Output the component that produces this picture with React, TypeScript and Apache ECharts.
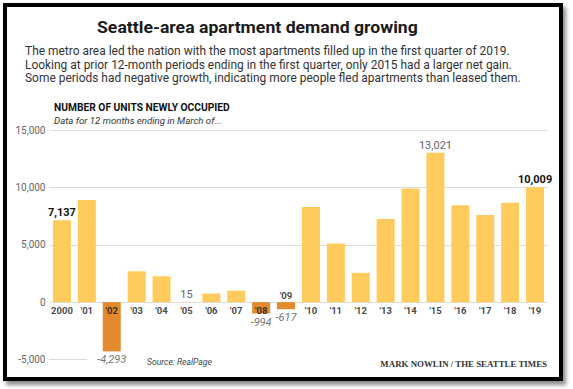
import React, { useEffect, useRef } from "react";
import * as echarts from "echarts";

const categories = ["2000", "'01", "'02", "'03", "'04", "'05", "'06", "'07", "'08", "'09", "'10", "'11", "'12", "'13", "'14", "'15", "'16", "'17", "'18", "'19"];
const values = [7137, 8900, -4293, 2700, 2250, 15, 750, 1000, -994, -617, 8300, 5100, 2550, 7250, 9900, 13021, 8450, 7600, 8650, 10009];
const boldLabelIdx = [0, 19];
const grayLabelIdx = [5, 15];
const negLabelIdx = [2, 8, 9];
const raisedCatIdx = [9];
const yTicks = [-5000, 0, 5000, 10000, 15000];

const title = "Seattle-area apartment demand growing";
const subtitleLines = [
  "The metro area led the nation with the most apartments filled up in the first quarter of 2019.",
  "Looking at prior 12-month periods ending in the first quarter, only 2015 had a larger net gain.",
  "Some periods had negative growth, indicating more people fled apartments than leased them.",
];
const chartHead = "NUMBER OF UNITS NEWLY OCCUPIED";
const chartSub = "Data for 12 months ending in March of...";
const source = "Source: RealPage";
const credit = "MARK NOWLIN / THE SEATTLE TIMES";

const SANS = "Roboto, sans-serif";
const SERIF = '"Liberation Serif", "DejaVu Serif", serif';
const YELLOW = "#FFCB5C";
const ORANGE = "#E28A2C";

function measure(text: string, font: string) {
  const c = document.createElement("canvas").getContext("2d");
  if (!c) return 1;
  c.font = font;
  return c.measureText(text).width || 1;
}

function fitText(text: string, font: string, x: number, y: number, width: number, fill: string, align = "left") {
  const s = width / measure(text, font);
  return {
    type: "text",
    x,
    y,
    scaleX: s,
    style: { text, font, fill, textAlign: align, textVerticalAlign: "middle" },
  };
}

export default function App() {
  const ref = useRef<HTMLDivElement>(null);
  useEffect(() => {
    if (!ref.current) return;
    const chart = echarts.init(ref.current, null, { renderer: "svg" });
    const fmt = (v: number) => v.toLocaleString("en-US");
    const barData = values.map((v, i) => {
      const item: any = { value: v, itemStyle: { color: v < 0 ? ORANGE : YELLOW } };
      if (boldLabelIdx.includes(i)) {
        item.label = { show: true, position: "top", distance: 2, fontWeight: "bold", color: "#111", fontSize: 11, fontFamily: SANS };
      } else if (grayLabelIdx.includes(i)) {
        item.label = { show: true, position: "top", distance: 2, color: "#666", fontSize: 11, fontFamily: SANS };
      } else if (negLabelIdx.includes(i)) {
        item.label = { show: true, position: "bottom", distance: 3, color: "#777", fontStyle: "italic", fontSize: 11, fontFamily: SANS };
      }
      return item;
    });
    const catData = categories.map((c, i) => ({
      name: c,
      value: 0,
      label: raisedCatIdx.includes(i) ? { position: "top", distance: 2 } : { position: "bottom", distance: 3 },
    }));
    const subFont = `12px ${SANS}`;
    const subScale = 485 / measure(subtitleLines[0], subFont);
    chart.setOption({
      animation: false,
      grid: { left: 49.5, right: 25.5, top: 130, bottom: 29.5, containLabel: false },
      xAxis: {
        type: "category",
        data: categories,
        axisLine: { show: false },
        axisTick: { show: false },
        axisLabel: { show: false },
        splitLine: { show: false },
      },
      yAxis: {
        type: "value",
        min: yTicks[0],
        max: yTicks[yTicks.length - 1],
        interval: 5000,
        axisLine: { show: false },
        axisTick: { show: false },
        axisLabel: { color: "#666", fontSize: 10, fontFamily: SANS, margin: 4, formatter: (v: number) => fmt(v) },
        splitLine: { lineStyle: { color: ["rgba(0,0,0,0)", "#dcdcdc", "#dcdcdc", "#dcdcdc", "#dcdcdc"], width: 1 } },
      },
      series: [
        {
          type: "bar",
          data: barData,
          barWidth: 18,
          label: { formatter: (p: any) => fmt(p.value) },
        },
        {
          type: "scatter",
          data: catData,
          symbolSize: 0,
          silent: true,
          label: { show: true, formatter: (p: any) => p.name, color: "#111", fontWeight: "bold", fontSize: 9.5, fontFamily: SANS },
        },
      ],
      graphic: [
        { type: "line", shape: { x1: 49, y1: 359.5, x2: 87, y2: 359.5 }, style: { stroke: "#dcdcdc", lineWidth: 1 } },
        fitText(title, `bold 17px ${SANS}`, 97, 27.5, 321, "#1a1a1a"),
        ...subtitleLines.map((t, i) => ({
          type: "text",
          x: 25,
          y: 51 + i * 13.5,
          scaleX: subScale,
          style: { text: t, font: subFont, fill: "#333", textVerticalAlign: "middle" },
        })),
        fitText(chartHead, `bold 10.5px ${SANS}`, 54, 107.5, 176, "#111"),
        fitText(chartSub, `italic 9.5px ${SANS}`, 54, 121, 168, "#333"),
        fitText(source, `italic 9.5px ${SANS}`, 147, 362, 65, "#444"),
        fitText(credit, `bold 8px ${SERIF}`, 547, 364, 167, "#333", "right"),
      ],
    });
    return () => chart.dispose();
  }, []);
  return (
    <div style={{ position: "absolute", left: 0, top: 0, width: 573, height: 389, background: "#fff" }}>
      <div
        style={{
          position: "absolute",
          left: 3,
          top: 3,
          width: 560,
          height: 378,
          boxSizing: "border-box",
          border: "4px solid #000",
          boxShadow: "3px 4px 4px rgba(0,0,0,0.45)",
          background: "#fff",
        }}
      />
      <div ref={ref} style={{ position: "absolute", left: 0, top: 0, width: 573, height: 389 }} />
    </div>
  );
}
